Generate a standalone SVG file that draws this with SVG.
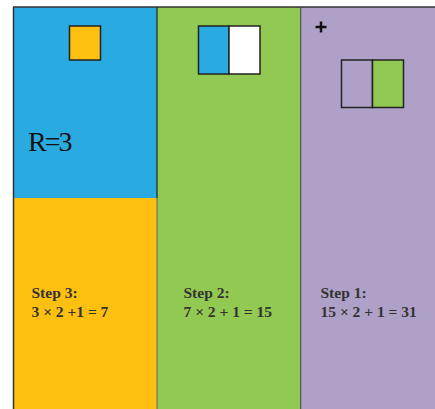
<svg xmlns="http://www.w3.org/2000/svg" width="435" height="409" viewBox="0 0 435 409">
<style>
.box{stroke:#222;stroke-width:1.5}
.step{font-family:"Liberation Serif",serif;font-weight:bold;font-size:15.5px;fill:#333}
</style>
<rect width="435" height="409" fill="#fff"/>
<g id="col-step3">
<rect x="14" y="7" width="143" height="191" fill="#29ABE2"/>
<rect x="14" y="198" width="143" height="211" fill="#FDC010"/>
<rect class="box" x="69.5" y="26" width="31" height="34" fill="#FDC010"/>
<text x="28" y="151" font-family="Liberation Serif,serif" font-size="28" letter-spacing="-2" fill="#111">R=3</text>
<text class="step" x="31.5" y="297.5">Step 3:</text>
<text class="step" x="31.5" y="316.5">3 × 2 +1 = 7</text>
</g>
<g id="col-step2">
<rect x="157" y="7" width="144" height="402" fill="#92C952"/>
<rect class="box" x="198.5" y="26" width="30.5" height="48" fill="#29ABE2"/>
<rect class="box" x="229" y="26" width="31" height="48" fill="#fff"/>
<text class="step" x="183.5" y="297.5">Step 2:</text>
<text class="step" x="183.5" y="316.5">7 × 2 + 1 = 15</text>
</g>
<g id="col-step1">
<rect x="301" y="7" width="134" height="402" fill="#AFA0C8"/>
<rect class="box" x="341.5" y="60" width="31" height="47.5" fill="#AFA0C8"/>
<rect class="box" x="372.5" y="60" width="31" height="47.5" fill="#92C952"/>
<path d="M321 21.5v11M315.5 27h11" stroke="#111" stroke-width="2.5"/>
<text class="step" x="320.5" y="297.5">Step 1:</text>
<text class="step" x="320.5" y="316.5">15 × 2 + 1 = 31</text>
</g>
<g id="connectors">
<path d="M13.5 7V409" stroke="#333" stroke-width="1.5"/>
<path d="M13 7H435" stroke="#333" stroke-width="1.5"/>
<path d="M157 7V198" stroke="#222" stroke-width="1.2"/>
<path d="M157 198V409" stroke="#666" stroke-width="1"/>
<path d="M300.7 7V409" stroke="#444" stroke-width="1"/>
</g>
</svg>
